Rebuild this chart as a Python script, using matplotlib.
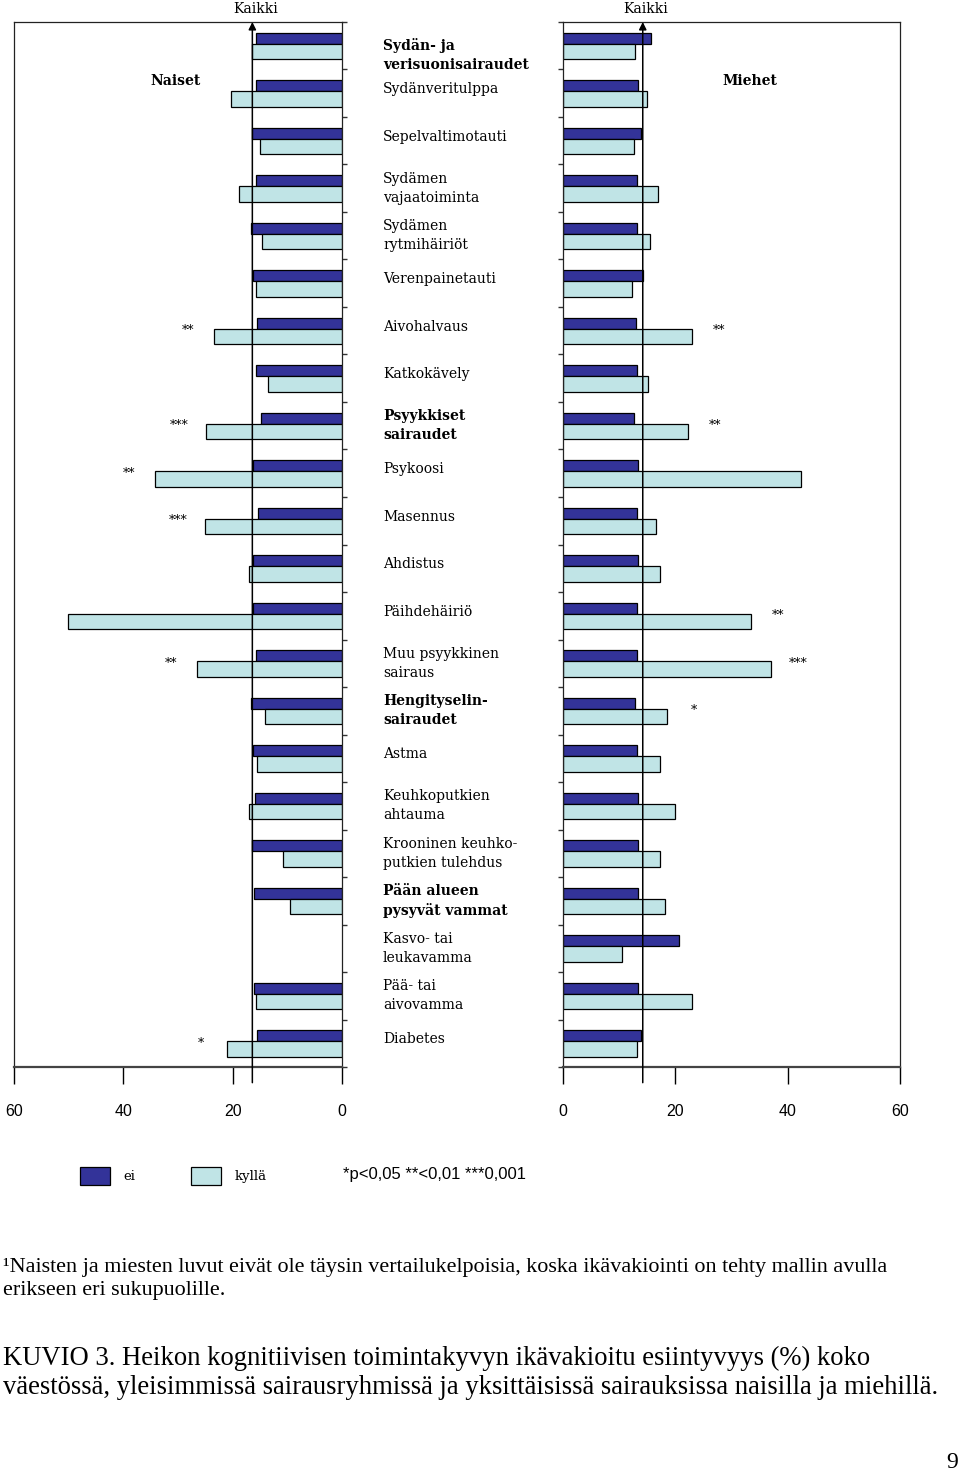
import numpy as np
import matplotlib
matplotlib.use("Agg")
import matplotlib.pyplot as plt
import matplotlib.transforms as mtransforms

# categories, top to bottom
labels = [
    "Sydän- ja\nverisuonisairaudet", "Sydänveritulppa", "Sepelvaltimotauti",
    "Sydämen\nvajaatoiminta", "Sydämen\nrytmihäiriöt", "Verenpainetauti",
    "Aivohalvaus", "Katkokävely", "Psyykkiset\nsairaudet", "Psykoosi",
    "Masennus", "Ahdistus", "Päihdehäiriö", "Muu psyykkinen\nsairaus",
    "Hengityselin-\nsairaudet", "Astma", "Keuhkoputkien\nahtauma",
    "Krooninen keuhko-\nputkien tulehdus", "Pään alueen\npysyvät vammat",
    "Kasvo- tai\nleukavamma", "Pää- tai\naivovamma", "Diabetes",
]
bold_rows = [0, 8, 14, 18]

# women (Naiset): ei / kyllä
naiset_ei = [15.7, 15.7, 16.5, 15.7, 16.6, 16.3, 15.5, 15.7, 14.8, 16.3, 15.4,
             16.3, 16.3, 15.7, 16.6, 16.3, 15.9, 16.5, 16.1, np.nan, 16.1, 15.5]
naiset_kylla = [16.5, 20.3, 15.0, 18.8, 14.6, 15.7, 23.4, 13.5, 24.9, 34.2, 25.1,
                17.0, 50.1, 26.5, 14.1, 15.5, 17.0, 10.8, 9.5, np.nan, 15.7, 21.0]
# men (Miehet)
miehet_ei = [15.7, 13.4, 13.9, 13.2, 13.2, 14.2, 13.0, 13.2, 12.6, 13.4, 13.2,
             13.4, 13.2, 13.2, 12.8, 13.2, 13.4, 13.4, 13.4, 20.7, 13.4, 13.9]
miehet_kylla = [12.8, 15.0, 12.6, 16.9, 15.5, 12.3, 23.0, 15.1, 22.3, 42.4, 16.6,
                17.3, 33.5, 37.0, 18.5, 17.3, 19.9, 17.3, 18.2, 10.5, 23.0, 13.2]

kaikki_naiset = 16.4
kaikki_miehet = 14.2

# significance marks (row, text)
stars_naiset = [(6, "**"), (8, "***"), (9, "**"), (10, "***"), (13, "**"), (21, "*")]
stars_miehet = [(6, "**"), (8, "**"), (12, "**"), (13, "***"), (14, "*")]

dark = "#333399"
light = "#c0e4e6"
serif = ["DejaVu Serif"]
narrow = ["Liberation Sans Narrow", "Liberation Sans", "DejaVu Sans"]

n = len(labels)
rows = np.arange(n)

fig = plt.figure(figsize=(9.6, 14.76), dpi=100)
W, H = 960.0, 1476.0
bottom = 1 - 1067 / H
height = 1045 / H
axL = fig.add_axes([14 / W, bottom, 328 / W, height])
axR = fig.add_axes([563 / W, bottom, 337 / W, height])


def draw(ax, ei, kylla, kaikki, stars, xlim):
    b1 = ax.barh(rows - 0.153, ei, height=0.232, color=dark,
                 edgecolor="black", linewidth=0.9)
    b2 = ax.barh(rows + 0.121, kylla, height=0.316, color=light,
                 edgecolor="black", linewidth=0.9)
    ax.set_xlim(*xlim)
    ax.set_ylim(n - 0.5, -0.5)
    ax.set_xticks([0, 20, 40, 60])
    ax.set_yticks(np.arange(-0.5, n + 0.5, 1.0))
    ax.set_yticklabels([])
    ax.tick_params(axis="x", direction="out", length=12, width=1.0,
                   pad=15, labelsize=11.5)
    ax.tick_params(axis="y", direction="out", length=3.5, width=1.0,
                   color="#333333")
    for lab in ax.get_xticklabels():
        lab.set_family(narrow)
        lab.set_stretch("condensed")
    for side in ["top", "left", "right"]:
        ax.spines[side].set_linewidth(0.9)
        ax.spines[side].set_color("#222222")
    ax.spines["bottom"].set_linewidth(1.6)
    ax.spines["bottom"].set_color("#444444")

    # "Kaikki" reference line with arrow head
    ax.annotate("", xy=(kaikki, 1.0), xycoords=("data", "axes fraction"),
                xytext=(kaikki, -0.015), textcoords=("data", "axes fraction"),
                arrowprops=dict(arrowstyle="-|>", color="black", lw=1.1,
                                mutation_scale=11, shrinkA=0, shrinkB=0),
                annotation_clip=False)
    ax.annotate("Kaikki", xy=(kaikki, 1.0), xycoords=("data", "axes fraction"),
                xytext=(3, 13), textcoords="offset pixels", ha="center",
                va="center", fontsize=10, family=serif)

    for r, s in stars:
        v = kylla[r]
        ax.text(v + 4.8, r, s, ha="center", va="center", fontsize=9,
                family=serif)
    return b1, b2


b1, b2 = draw(axL, naiset_ei, naiset_kylla, kaikki_naiset, stars_naiset, (60, 0))
axL.yaxis.tick_right()
draw(axR, miehet_ei, miehet_kylla, kaikki_miehet, stars_miehet, (0, 60))
axR.yaxis.tick_left()

# category labels in the middle column
tr = mtransforms.blended_transform_factory(fig.transFigure, axL.transData)
for i, lab in enumerate(labels):
    two = "\n" in lab
    dy = 0.0 if two else -0.08
    if i == 0:
        dy = 0.2
    axL.text(383 / W, i + dy, lab, transform=tr, ha="left", va="center",
             fontsize=10, family=serif, linespacing=1.45,
             fontweight="bold" if i in bold_rows else "normal")

fig.text(176 / W, 1 - 81 / H, "Naiset", ha="center", va="center",
         fontsize=10, fontweight="bold", family=serif)
fig.text(750 / W, 1 - 81 / H, "Miehet", ha="center", va="center",
         fontsize=10, fontweight="bold", family=serif)

# legend
fig.legend([b1, b2], ["ei", "kyllä"], loc="center left",
           bbox_to_anchor=(80 / W, 1 - 1176 / H), ncol=2, frameon=False,
           prop={"family": serif, "size": 9.5}, handlelength=2.3,
           handleheight=1.7, handletextpad=1.0, columnspacing=4.2,
           borderpad=0, borderaxespad=0)
fig.text(343 / W, 1 - 1175 / H, "*p<0,05 **<0,01 ***0,001", ha="left",
         va="center", fontsize=12, family=narrow, stretch="condensed")

# footnote and caption
times = ["Liberation Serif", "DejaVu Serif"]
fig.text(3 / W, 1 - 1279 / H,
         "¹Naisten ja miesten luvut eivät ole täysin vertailukelpoisia, koska "
         "ikävakiointi on tehty mallin avulla\nerikseen eri sukupuolille.",
         ha="left", va="center", fontsize=15.9, family=times, linespacing=1.3)
fig.text(3 / W, 1 - 1373 / H,
         "KUVIO 3. Heikon kognitiivisen toimintakyvyn ikävakioitu esiintyvyys "
         "(%) koko\nväestössä, yleisimmissä sairausryhmissä ja yksittäisissä "
         "sairauksissa naisilla ja miehillä.",
         ha="left", va="center", fontsize=19.2, family=times, linespacing=1.17)
fig.text(958 / W, 1 - 1462 / H, "9", ha="right", va="center", fontsize=17,
         family=times)

fig.savefig("out.png", dpi=100, facecolor="white")
